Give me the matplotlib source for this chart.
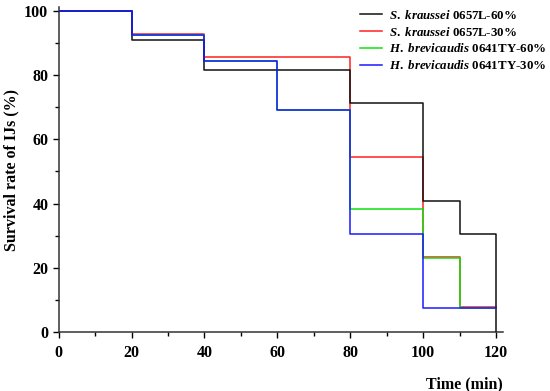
import matplotlib.pyplot as plt
from matplotlib.ticker import MultipleLocator

plt.rcParams['font.family'] = 'Liberation Serif'
plt.rcParams['font.weight'] = 'bold'
plt.rcParams['mathtext.fontset'] = 'custom'
plt.rcParams['mathtext.it'] = 'Liberation Serif:italic:bold'
plt.rcParams['mathtext.rm'] = 'Liberation Serif:bold'

# time points (min) and survival rate (%)
times = [0, 20, 40, 60, 80, 100, 110, 120]
sk60 = [100, 90.9, 81.7, 81.7, 71.4, 40.8, 30.5, 0]
sk30 = [100, 92.8, 85.5, 85.5, 54.4, 23.4, 7.9, 7.9]
hb60 = [100, 92.3, 84.4, 69.2, 38.3, 23.0, 7.7, 7.7]
hb30 = [100, 92.3, 84.4, 69.2, 30.6, 7.7, 7.7, 7.7]

labels = [r'$\it{S.\ kraussei}$ 0657L-60%',
          r'$\it{S.\ kraussei}$ 0657L-30%',
          r'$\it{H.\ brevicaudis}$ 0641TY-60%',
          r'$\it{H.\ brevicaudis}$ 0641TY-30%']

fig = plt.figure(figsize=(5.5, 3.91), dpi=100)
ax = fig.add_axes([0.1067, 0.1501, 0.807, 0.8325])

ax.step(times, sk60, where='post', color='#111111', lw=1.1, zorder=4, label=labels[0])
ax.step(times, sk30, where='post', color='#ff2020', lw=1.1, zorder=2, label=labels[1])
ax.step(times, hb60, where='post', color='#10e010', lw=1.1, zorder=3, label=labels[2])
ax.step(times, hb30, where='post', color='#1a1aff', lw=1.1, zorder=5, label=labels[3])

ax.set_xlim(0, 121.8)
ax.set_ylim(0, 101.2)
ax.spines['top'].set_visible(False)
ax.spines['right'].set_visible(False)
ax.spines['left'].set_color('#333333')
ax.spines['bottom'].set_color('#333333')
ax.spines['left'].set_linewidth(1.1)
ax.spines['bottom'].set_linewidth(1.1)
ax.xaxis.set_major_locator(MultipleLocator(20))
ax.xaxis.set_minor_locator(MultipleLocator(10))
ax.yaxis.set_major_locator(MultipleLocator(20))
ax.yaxis.set_minor_locator(MultipleLocator(10))
ax.tick_params(which='major', length=4, width=1, labelsize=11.5)
ax.tick_params(axis='x', pad=5)
ax.tick_params(which='minor', length=3, width=1)

ax.set_xlabel('Time (min)', fontsize=11.5, fontweight='bold', loc='right', labelpad=11)
ax.set_ylabel('Survival rate of IJs (%)', fontsize=11.5, fontweight='bold')
ax.yaxis.set_label_coords(-0.088, 0.5)

ax.legend(loc='upper right', bbox_to_anchor=(1.125, 1.03), frameon=False,
          fontsize=9.3, handlelength=1.7, handletextpad=0.55, labelspacing=0.3)

fig.savefig('out.png', dpi=100)
